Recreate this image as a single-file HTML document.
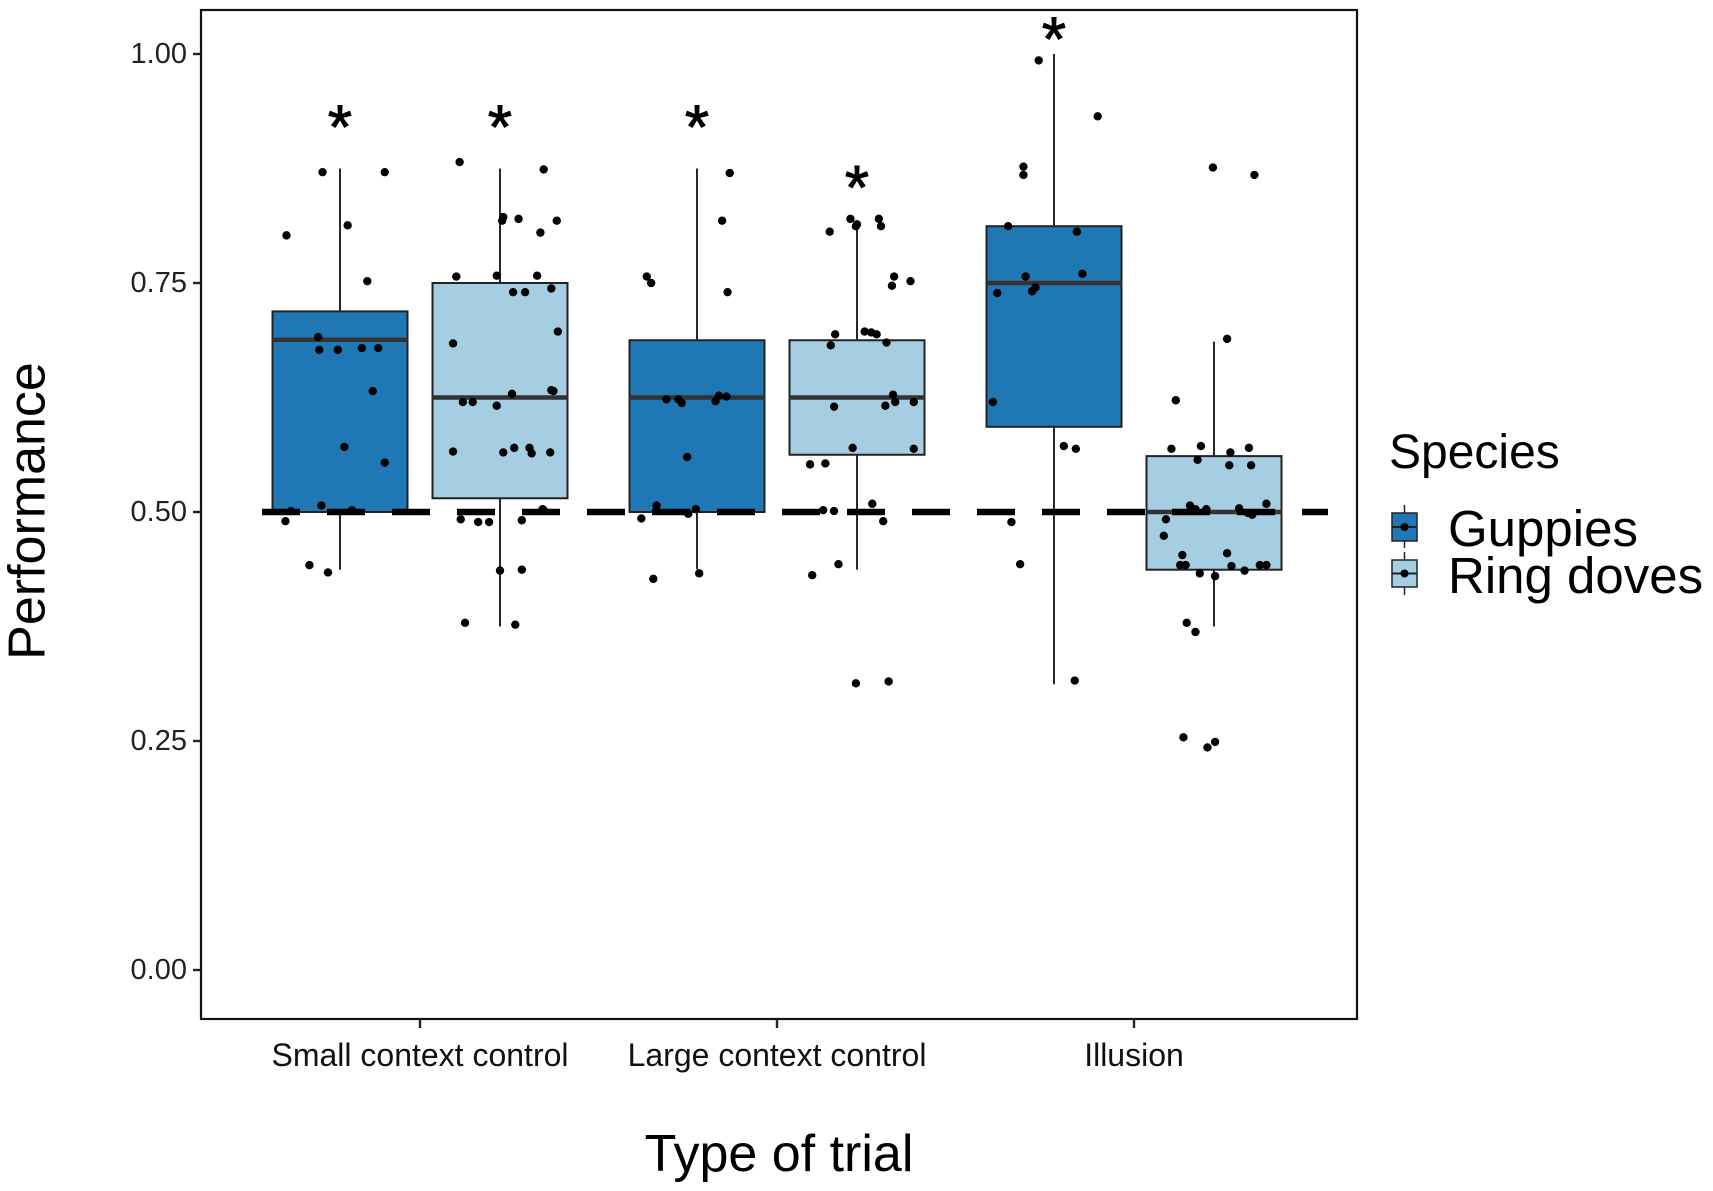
<!DOCTYPE html>
<html><head><meta charset="utf-8">
<style>
html,body{margin:0;padding:0;background:#fff;}
svg{display:block;font-family:"Liberation Sans",Arial,sans-serif;}
</style></head>
<body>
<svg id="chart" width="1713" height="1191" viewBox="0 0 1713 1191" xmlns="http://www.w3.org/2000/svg">
<rect width="1713" height="1191" fill="#fff"/>
<g id="plot"></g>
<text x="31" y="511" font-size="52" text-anchor="middle" dominant-baseline="middle" transform="rotate(-90 31 511)" fill="#000">Performance</text>
<text x="779" y="1171" font-size="52" text-anchor="middle" fill="#000">Type of trial</text>
<g>
<text x="1389" y="468" font-size="48" fill="#000">Species</text>
<g>
<line x1="1404.5" y1="505" x2="1404.5" y2="548" stroke="#222" stroke-width="1.5"/>
<rect x="1392" y="513" width="25" height="28" fill="#1f78b4" stroke="#222" stroke-width="1.5"/>
<line x1="1392" y1="527" x2="1417" y2="527" stroke="#222" stroke-width="2"/>
<circle cx="1404.5" cy="527" r="4" fill="#000"/>
<text x="1448" y="546" font-size="51" fill="#000">Guppies</text>
</g>
<g>
<line x1="1404.5" y1="552" x2="1404.5" y2="595" stroke="#222" stroke-width="1.5"/>
<rect x="1392" y="560" width="25" height="27" fill="#a6cee3" stroke="#222" stroke-width="1.5"/>
<line x1="1392" y1="573.5" x2="1417" y2="573.5" stroke="#222" stroke-width="2"/>
<circle cx="1404.5" cy="573.5" r="4" fill="#000"/>
<text x="1448" y="593" font-size="51" fill="#000">Ring doves</text>
</g>
</g>
</svg>
<script>
const categories = ["Small context control","Large context control","Illusion"];
const species = ["Guppies","Ring doves"];
const yTicks = [0,0.25,0.5,0.75,1];
const yTickLabels = ["0.00","0.25","0.50","0.75","1.00"];
// box stats per [category][species]: [lowWhisker, q1, median, q3, highWhisker]
const boxSmall = [[0.437,0.5,0.688,0.719,0.875],[0.375,0.515,0.625,0.75,0.875]];
const boxLarge = [[0.4375,0.5,0.625,0.6875,0.875],[0.437,0.5625,0.625,0.6875,0.817]];
const boxIllusion = [[0.312,0.593,0.75,0.812,1.0],[0.375,0.437,0.5,0.561,0.686]];
const stars = [[0.936,0.936],[0.936,0.87],[1.032,null]];
const chance = 0.5;
// points
const ptsSmallG = [0.802,0.871,0.813,0.752,0.691,0.677,0.677,0.679,0.679,0.632,0.571,0.554,0.501,0.507,0.502,0.490,0.442,0.434,0.871];
const jitSmallG = [-49,-16,7,25,-20,-19,-2,20,35,30,4,41,-45,-17,11,-50,-28,-11,41];
const ptsSmallR = [0.882,0.822,0.818,0.820,0.874,0.818,0.805,0.757,0.758,0.758,0.740,0.740,0.744,0.697,0.684,0.620,0.620,0.629,0.616,0.633,0.632,0.566,0.570,0.565,0.570,0.564,0.565,0.492,0.489,0.489,0.491,0.503,0.436,0.437,0.379,0.377,0.502];
const jitSmallR = [-37,3,2,17,40,52,37,-40,-3,34,12,23,47,53,-43,-34,-25,11,-3,47,49,-43,13,3,27,29,46,-36,-20,-10,20,39,0,20,-32,14,40];
const ptsLargeG = [0.870,0.818,0.757,0.750,0.740,0.623,0.623,0.619,0.627,0.621,0.626,0.560,0.507,0.503,0.498,0.493,0.427,0.433];
const jitLargeG = [30,23,-46,-42,28,-28,-17,-14,20,17,27,-9,-37,-1,-8,-51,-40,2];
const ptsLargeR = [0.820,0.814,0.820,0.812,0.806,0.812,0.757,0.747,0.752,0.694,0.697,0.696,0.694,0.685,0.682,0.615,0.628,0.620,0.616,0.620,0.552,0.553,0.570,0.569,0.502,0.501,0.509,0.490,0.443,0.431,0.315,0.313];
const jitLargeR = [-6,0,20,22,-25,-1,34,32,49,-20,7,13,18,27,-24,-21,33,35,26,52,-43,-29,-4,52,-31,-21,14,24,-17,-41,29,-1];
const ptsIllG = [0.812,0.877,0.868,0.993,0.932,0.806,0.757,0.745,0.741,0.739,0.760,0.620,0.572,0.569,0.489,0.443,0.316];
const jitIllG = [-42,-28,-28,-14,40,21,-26,-17,-20,-52,26,-56,9,20,-39,-31,19];
const ptsIllR = [0.876,0.868,0.689,0.622,0.569,0.572,0.565,0.570,0.557,0.551,0.551,0.492,0.507,0.503,0.503,0.504,0.497,0.509,0.442,0.442,0.453,0.433,0.430,0.441,0.436,0.442,0.442,0.379,0.369,0.254,0.243,0.249,0.455,0.499,0.474];
const jitIllR = [-1,37,12,-35,-39,-12,15,32,-15,14,34,-44,-22,-17,-7,23,35,48,-31,-26,-29,-13,1,16,28,42,48,-25,-17,-28,-6,1,12,31,-46];

const boxes = [boxSmall, boxLarge, boxIllusion];
const points = [[ptsSmallG, ptsSmallR],[ptsLargeG, ptsLargeR],[ptsIllG, ptsIllR]];
const jitters = [[jitSmallG, jitSmallR],[jitLargeG, jitLargeR],[jitIllG, jitIllR]];
const fills = ["#1f78b4","#a6cee3"];

const NS = "http://www.w3.org/2000/svg";
const plot = document.getElementById('plot');
const L = 201, R = 1357, T = 10, B = 1019;
const y = v => 970 - 916 * v;
const band = 357;
const xCat = i => 420 + band * i;
const dodge = 80, boxW = 135;
const xGroup = (i, s) => xCat(i) + (s === 0 ? -dodge : dodge);
function mk(tag, attrs, parent) {
  const el = document.createElementNS(NS, tag);
  for (const k in attrs) el.setAttribute(k, attrs[k]);
  (parent || plot).appendChild(el);
  return el;
}
const frame = mk('rect', {x:L, y:T, width:R-L, height:B-T, fill:'none', stroke:'#111', 'stroke-width':2.2});


yTicks.forEach((t, i) => {
  const tk = mk('line', {x1:L-8, x2:L, y1:y(t), y2:y(t), stroke:'#222', 'stroke-width':2.4});
  
  
  const lb = mk('text', {x:L-14, y:y(t), 'font-size':29, 'text-anchor':'end', 'dominant-baseline':'central', fill:'#222'});
  lb.textContent = yTickLabels[i];
  
  
});
categories.forEach((c, i) => {
  const tk = mk('line', {x1:xCat(i), x2:xCat(i), y1:B, y2:B+9, stroke:'#222', 'stroke-width':2.4});
  
  
  const lb = mk('text', {x:xCat(i), y:1066, 'font-size':32, 'text-anchor':'middle', fill:'#111'});
  lb.textContent = c;
  
  
});
boxes.forEach((cat, i) => {
  cat.forEach((st, s) => {
    const cx = xGroup(i, s);
    const g = mk('g', {});
    
    
    mk('line', {x1:cx, x2:cx, y1:y(st[0]), y2:y(st[1]), stroke:'#111', 'stroke-width':1.8}, g);
    mk('line', {x1:cx, x2:cx, y1:y(st[3]), y2:y(st[4]), stroke:'#111', 'stroke-width':1.8}, g);
    mk('rect', {x:cx-boxW/2, y:y(st[3]), width:boxW, height:y(st[1])-y(st[3]), fill:fills[s], stroke:'#222', 'stroke-width':2}, g);
    mk('line', {x1:cx-boxW/2, x2:cx+boxW/2, y1:y(st[2]), y2:y(st[2]), stroke:'#333', 'stroke-width':4.5}, g);
  });
});
const dl = mk('line', {x1:262, x2:1328, y1:y(chance), y2:y(chance), stroke:'#000', 'stroke-width':6.5, 'stroke-dasharray':'38 27'});


points.forEach((cat, i) => {
  cat.forEach((arr, s) => {
    const cx = xGroup(i, s);
    arr.forEach((v, k) => {
      const p = mk('circle', {cx: cx + jitters[i][s][k] / 327 * band, cy: y(v), r: 4.2, fill:'#000'});
      
      
    });
  });
});
stars.forEach((row, i) => {
  row.forEach((v, s) => {
    if (v === null) return;
    const t = mk('text', {x: xGroup(i, s), y: y(v) + 36, 'font-size':62, 'text-anchor':'middle', fill:'#000', stroke:'#000', 'stroke-width':1});
    t.textContent = '*';
    
    
  });
});
</script>
</body></html>
